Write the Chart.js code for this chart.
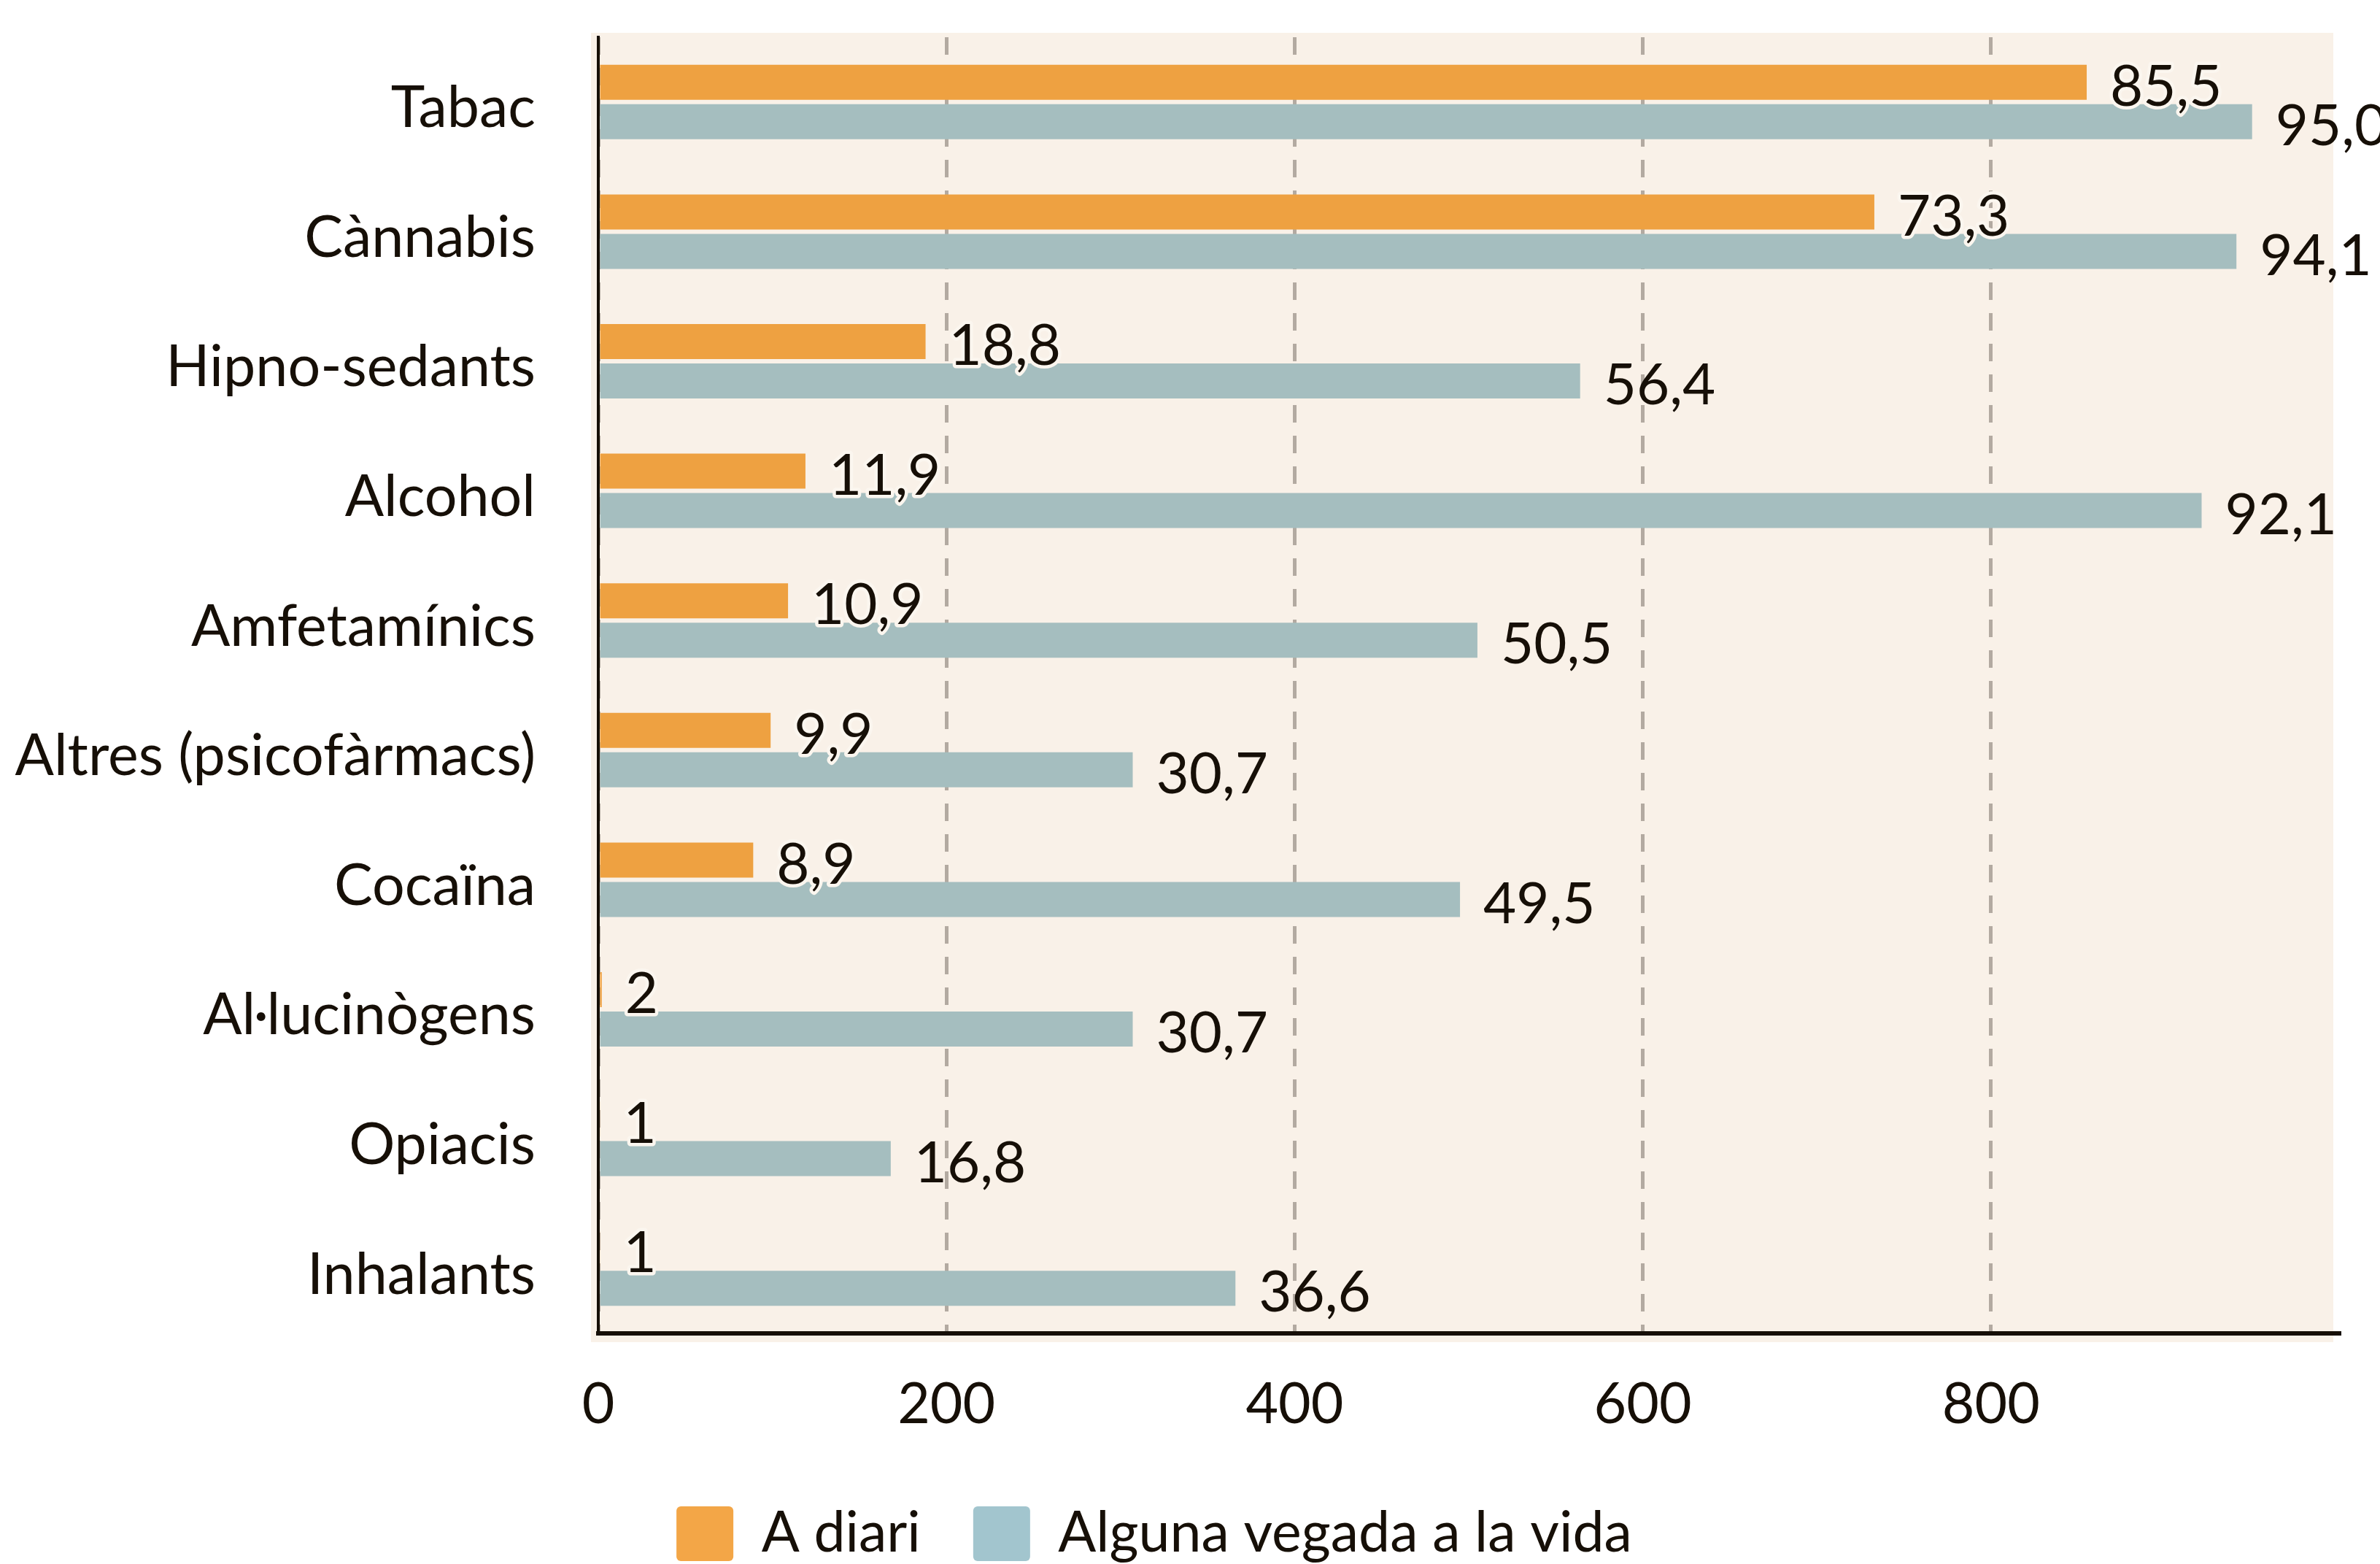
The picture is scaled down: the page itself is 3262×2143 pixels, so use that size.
<!DOCTYPE html>
<html>
<head>
<meta charset="utf-8">
<script src="https://cdn.jsdelivr.net/npm/chart.js@4.4.1/dist/chart.umd.min.js"></script>
<style>
  html, body { margin: 0; padding: 0; background: #ffffff; overflow: hidden; }
  #wrap { width: 3262px; height: 2143px; position: relative; overflow: hidden; }
  canvas { display: block; }
</style>
</head>
<body>
<div id="wrap"><canvas id="chart" width="3262" height="2150"></canvas></div>
<script>
// ---- data ----
const categories = ['Tabac', 'Cànnabis', 'Hipno-sedants', 'Alcohol', 'Amfetamínics',
  'Altres (psicofàrmacs)', 'Cocaïna', 'Al·lucinògens', 'Opiacis', 'Inhalants'];
const seriesNames = ['A diari', 'Alguna vegada a la vida'];
const aDiari = [855, 733, 188, 119, 109, 99, 89, 2, 1, 1];
const algunaVegada = [950, 941, 564, 921, 505, 307, 495, 307, 168, 366];
const aDiariLabels = ['85,5', '73,3', '18,8', '11,9', '10,9', '9,9', '8,9', '2', '1', '1'];
const algunaVegadaLabels = ['95,0', '94,1', '56,4', '92,1', '50,5', '30,7', '49,5', '30,7', '16,8', '36,6'];
const xTickValues = [0, 200, 400, 600, 800];
const xMax = 1000;

// ---- styles ----
const FONT = 'Lato, "Noto Sans", sans-serif';
const TEXT = '#160f07';
const barColors = ['#eea141', '#a5bebf'];
const legendColors = ['#f3a647', '#a2c5ce'];
const valueLabels = [aDiariLabels, algunaVegadaLabels];

const bgPlugin = {
  id: 'plotBg',
  beforeDraw(chart) {
    const a = chart.chartArea, c = chart.ctx;
    c.save();
    c.fillStyle = '#f9f1e8';
    c.fillRect(a.left - 10, a.top - 6, (a.right - 8) - (a.left - 10), (a.bottom + 12) - (a.top - 6));
    c.restore();
  }
};

const labelPlugin = {
  id: 'valueLabels',
  afterDatasetsDraw(chart) {
    const c = chart.ctx;
    c.save();
    c.font = '78px ' + FONT;
    c.textAlign = 'left';
    c.textBaseline = 'middle';
    c.lineJoin = 'round';
    chart.data.datasets.forEach((ds, di) => {
      const meta = chart.getDatasetMeta(di);
      meta.data.forEach((el, i) => {
        const txt = valueLabels[di][i];
        const x = el.x + 32, y = el.y + 7;
        if (di === 0) {
          c.strokeStyle = '#fbf6ef';
          c.lineWidth = 9;
          c.strokeText(txt, x, y);
        }
        c.fillStyle = TEXT;
        c.fillText(txt, x, y);
      });
    });
    c.restore();
  }
};

const legendShift = {
  id: 'legendShift',
  afterLayout(chart) {
    if (chart.legend) {
      chart.legend.left -= 21;
      chart.legend.right -= 21;
    }
  }
};

function start() {
  new Chart(document.getElementById('chart'), {
    type: 'bar',
    data: {
      labels: categories,
      datasets: [
        { label: seriesNames[0], data: aDiari, backgroundColor: barColors[0] },
        { label: seriesNames[1], data: algunaVegada, backgroundColor: barColors[1] }
      ]
    },
    options: {
      indexAxis: 'y',
      responsive: false,
      animation: false,
      devicePixelRatio: 1,
      categoryPercentage: 0.608,
      barPercentage: 0.889,
      layout: { padding: { top: 51, right: 56, left: 0, bottom: 0 } },
      scales: {
        x: {
          type: 'linear',
          min: 0,
          max: xMax,
          afterBuildTicks(scale) { scale.ticks = xTickValues.map(v => ({ value: v })); },
          afterFit(scale) { scale.height = 164; },
          ticks: {
            padding: 52,
            color: TEXT,
            font: { family: FONT, size: 77 },
            callback: (v) => String(v)
          },
          grid: { color: '#b3aaa1', lineWidth: 5, drawTicks: false },
          border: { display: true, color: TEXT, width: 6, dash: [24, 18] }
        },
        y: {
          afterFit(scale) { scale.width = 820; scale.paddingTop = 0; scale.paddingBottom = 0; },
          ticks: {
            padding: 0,
            labelOffset: 9,
            color: TEXT,
            font: { family: FONT, size: 79 }
          },
          grid: { display: false, drawTicks: true, tickLength: 86 },
          border: { display: true, color: TEXT, width: 4 }
        }
      },
      plugins: {
        legend: {
          position: 'bottom',
          labels: {
            boxWidth: 78,
            boxHeight: 75,
            padding: 72,
            color: TEXT,
            font: { family: FONT, size: 77 },
            useBorderRadius: true,
            borderRadius: 6,
            generateLabels(chart) {
              return chart.data.datasets.map((ds, i) => ({
                text: ds.label,
                fillStyle: legendColors[i],
                strokeStyle: legendColors[i],
                lineWidth: 0,
                borderRadius: 6,
                hidden: false,
                datasetIndex: i,
                fontColor: TEXT
              }));
            }
          }
        },
        tooltip: { enabled: false }
      }
    },
    plugins: [bgPlugin, labelPlugin, legendShift]
  });
}

if (document.fonts && document.fonts.load) {
  document.fonts.load('78px Lato').then(start, start);
} else {
  start();
}
</script>
</body>
</html>
